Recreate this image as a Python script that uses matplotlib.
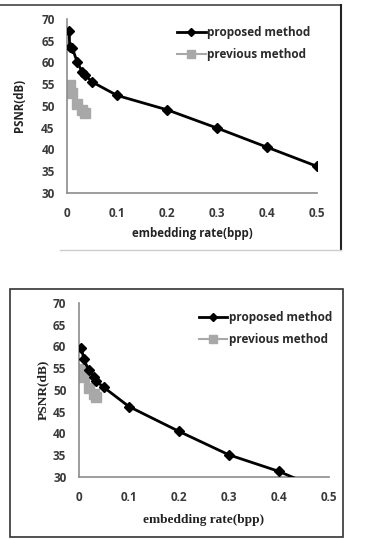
import matplotlib.pyplot as plt
from matplotlib.patches import Rectangle
from matplotlib.lines import Line2D

# top chart
top_rate = [0.004, 0.005, 0.01, 0.02, 0.03, 0.035, 0.05, 0.1, 0.2, 0.3, 0.4, 0.5]
top_psnr = [67.3, 63.6, 63.4, 60.1, 57.8, 57.2, 55.5, 52.4, 49.1, 44.9, 40.5, 36.1]

# bottom chart
bot_rate = [0.005, 0.01, 0.02, 0.03, 0.035, 0.05, 0.1, 0.2, 0.3, 0.4, 0.5]
bot_psnr = [59.7, 57.0, 54.5, 53.0, 52.0, 50.6, 46.2, 40.5, 35.1, 31.3, 26.4]

# previous method (same on both)
prev_rate = [0.005, 0.01, 0.02, 0.03, 0.035]
prev_psnr = [54.8, 52.9, 50.4, 49.0, 48.4]

xticks = [0, 0.1, 0.2, 0.3, 0.4, 0.5]
xticklabels = ['0', '0.1', '0.2', '0.3', '0.4', '0.5']
yticks = [30, 35, 40, 45, 50, 55, 60, 65, 70]

SANS = 'Open Sans'

fig = plt.figure(figsize=(3.65, 5.39), dpi=100)


def draw(ax, rate, psnr, label_font, leg_anchor):
    ax.plot(prev_rate, prev_psnr, color='#a8a8a8', lw=1.5, marker='s',
            markersize=7, label='previous method', zorder=2)
    ax.plot(rate, psnr, color='black', lw=2, marker='D', markersize=5,
            label='proposed method', zorder=3)
    ax.set_xlim(0, 0.5)
    ax.set_ylim(30, 70)
    ax.set_xticks(xticks)
    ax.set_xticklabels(xticklabels)
    ax.set_yticks(yticks)
    for s in ['top', 'right']:
        ax.spines[s].set_visible(False)
    for s in ['left', 'bottom']:
        ax.spines[s].set_color('#8c8c8c')
        ax.spines[s].set_linewidth(1.2)
    ax.tick_params(axis='x', length=0, pad=10)
    ax.tick_params(axis='y', length=0, pad=9)
    for t in ax.get_xticklabels() + ax.get_yticklabels():
        t.set_fontweight('bold')
        t.set_family(SANS)
        t.set_fontsize(8.5)
        t.set_color('#3a3a3a')
    h, l = ax.get_legend_handles_labels()
    ax.legend(h[::-1], l[::-1], loc='upper left', bbox_to_anchor=leg_anchor,
              frameon=False, handlelength=2.4, handletextpad=0.15,
              borderaxespad=0, borderpad=0, labelspacing=0.8,
              markerscale=0.75,
              prop={'size': 8.5, 'weight': 'bold', 'family': SANS})
    for t in ax.get_legend().get_texts():
        t.set_color('#2a2a2a')
    ax.set_ylabel('PSNR(dB)', **label_font)
    ax.set_xlabel('embedding rate(bpp)', **label_font)


ax1 = fig.add_axes([0.184, 0.642, 0.685, 0.323])
draw(ax1, top_rate, top_psnr,
     dict(fontsize=8.3, fontweight='bold', family=SANS, color='#222222'),
     (0.44, 0.96))
ax1.yaxis.labelpad = 11
ax1.xaxis.labelpad = 5

ax2 = fig.add_axes([0.216, 0.115, 0.685, 0.323])
draw(ax2, bot_rate, bot_psnr,
     dict(fontsize=9.6, fontweight='bold', family='Liberation Serif',
          color='#222222'),
     (0.48, 0.955))
ax2.yaxis.labelpad = 3
ax2.xaxis.labelpad = 7

# frames around the pictures
fig.add_artist(Line2D([0, 341 / 365], [1 - 5 / 539, 1 - 5 / 539],
                      color='#444444', lw=1.2))
fig.add_artist(Line2D([341 / 365, 341 / 365], [1 - 5 / 539, 1 - 250 / 539],
                      color='#222222', lw=1.5))
fig.add_artist(Line2D([60 / 365, 341 / 365], [1 - 250 / 539, 1 - 250 / 539],
                      color='#cccccc', lw=1.0))
fig.add_artist(Rectangle((10 / 365, 1 - 537 / 539), 333 / 365, 248 / 539,
                         fill=False, edgecolor='#333333', lw=1.2))

fig.savefig('out.png', dpi=100)
